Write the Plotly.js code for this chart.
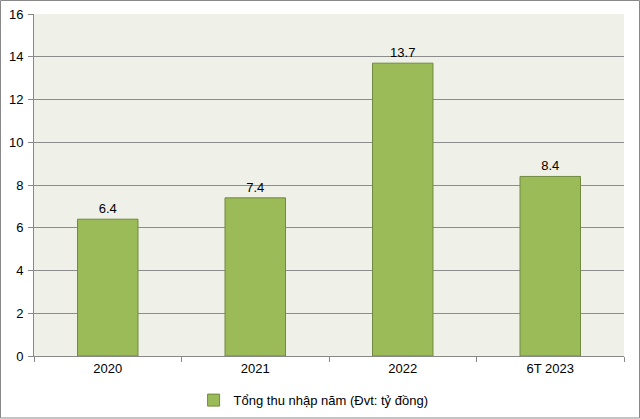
<!DOCTYPE html>
<html><head><meta charset="utf-8">
<script src="https://cdn.plot.ly/plotly-3.0.1.min.js"></script>
<style>html,body{margin:0;padding:0;background:#fff}#c{width:640px;height:419px}</style>
</head><body><div id="c"></div>
<script>
const categories = ["2020", "2021", "2022", "6T 2023"];
const values = [6.4, 7.4, 13.7, 8.4];
const valueLabels = ["6.4", "7.4", "13.7", "8.4"];
const seriesName = "Tổng thu nhập năm (Đvt: tỷ đồng)";
const yTicks = [0, 2, 4, 6, 8, 10, 12, 14, 16];

const trace = {
  type: "bar", x: categories, y: values, name: seriesName,
  text: valueLabels, textposition: "outside", cliponaxis: false,
  textfont: {family: "Liberation Sans, Arial", size: 13, color: "#000"},
  marker: {color: "#9BBB59", line: {color: "#71893F", width: 1}},
  showlegend: true
};
const layout = {
  width: 640, height: 419,
  margin: {l: 34, r: 16, t: 14, b: 63, autoexpand: false},
  paper_bgcolor: "#fff", plot_bgcolor: "#EFF1E8",
  font: {family: "Liberation Sans, Arial", size: 13, color: "#000"},
  bargap: 0.59,
  xaxis: {type: "category", tickson: "boundaries", ticks: "outside", ticklen: 5, tickcolor: "#888",
    showline: true, linecolor: "#888", linewidth: 1, showgrid: false, automargin: false,
    tickfont: {size: 13}},
  yaxis: {range: [0, 16], tickvals: yTicks, ticks: "outside", ticklen: 5, tickcolor: "#888",
    showline: true, linecolor: "#888", gridcolor: "#8C8C8C", gridwidth: 1, zeroline: false,
    automargin: false, tickfont: {size: 13}, ticklabelstandoff: 2},
  legend: {orientation: "h", x: 0.49, xanchor: "center", xref: "container",
    y: 0.045, yanchor: "middle", yref: "container",
    bgcolor: "rgba(0,0,0,0)", font: {size: 13}, itemwidth: 30},
  shapes: [{type: "rect", xref: "paper", yref: "paper",
    x0: -33.5/590, x1: 1 + 15.5/590, y0: -62/342, y1: 1 + 13.5/342,
    line: {color: "#888", width: 1}, layer: "below"}]
};
Plotly.newPlot("c", [trace], layout, {displayModeBar: false, staticPlot: true});
</script></body></html>
